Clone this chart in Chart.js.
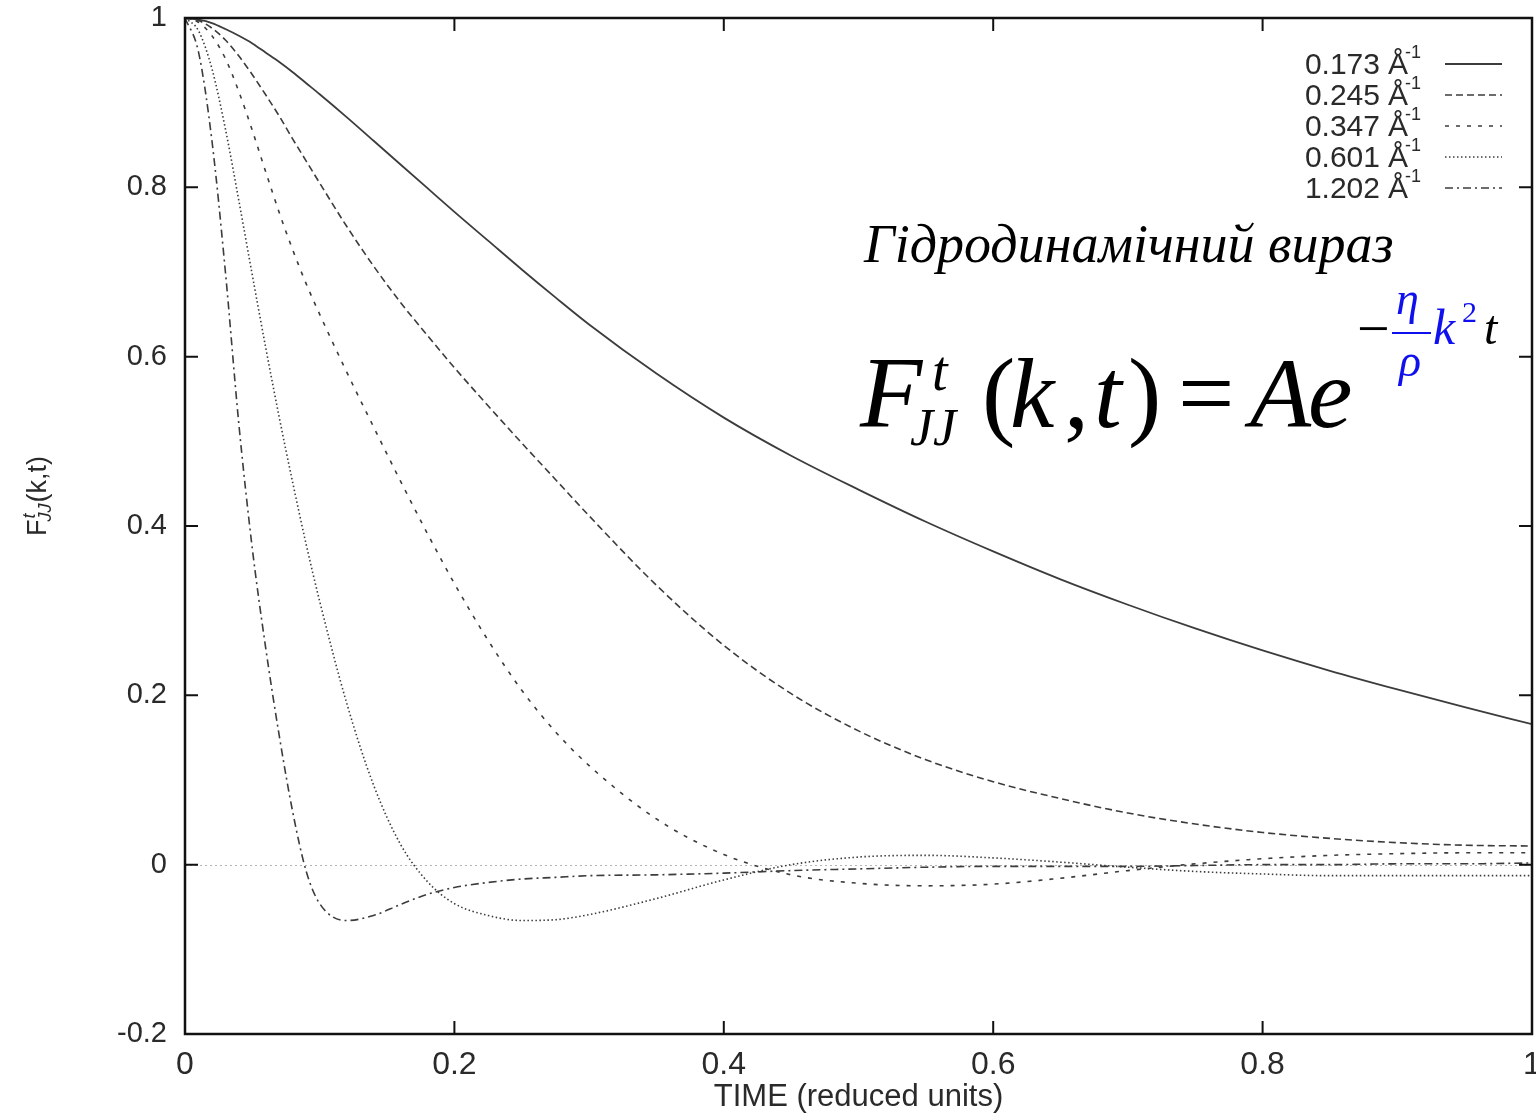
<!DOCTYPE html>
<html>
<head>
<meta charset="utf-8">
<script src="https://cdn.jsdelivr.net/npm/chart.js@4"></script>
<style>
  html, body { margin: 0; padding: 0; background: #fff; }
  #wrap { width: 1536px; height: 1113px; }
</style>
</head>
<body>
<div id="wrap"><canvas id="chart" width="1536" height="1113"></canvas></div>
<script>
// time axis (reduced units)
const times = [0, 0.01, 0.02, 0.03, 0.04, 0.05, 0.06, 0.07, 0.08, 0.09, 0.1, 0.12, 0.14, 0.16, 0.18, 0.2,
  0.225, 0.25, 0.275, 0.3, 0.35, 0.4, 0.45, 0.5, 0.55, 0.6, 0.65, 0.7, 0.75, 0.8, 0.85, 0.9, 0.95, 1];

// F_JJ^t(k,t) for each k
const k0173 = [1, 0.998, 0.994, 0.987, 0.979, 0.970, 0.959, 0.948, 0.936, 0.923, 0.910, 0.883, 0.855, 0.827,
  0.799, 0.771, 0.737, 0.703, 0.670, 0.638, 0.580, 0.528, 0.483, 0.443, 0.405, 0.370, 0.337, 0.307, 0.279,
  0.253, 0.229, 0.207, 0.186, 0.166];
const k0245 = [1, 0.997, 0.988, 0.974, 0.955, 0.933, 0.909, 0.884, 0.857, 0.831, 0.805, 0.754, 0.707, 0.664,
  0.625, 0.587, 0.542, 0.498, 0.455, 0.412, 0.330, 0.259, 0.202, 0.158, 0.124, 0.098, 0.078, 0.061, 0.048,
  0.038, 0.031, 0.026, 0.023, 0.022];
const k0347 = [1, 0.995, 0.979, 0.952, 0.913, 0.867, 0.818, 0.770, 0.726, 0.686, 0.650, 0.582, 0.517, 0.453,
  0.391, 0.332, 0.265, 0.206, 0.157, 0.117, 0.054, 0.012, -0.012, -0.022, -0.025, -0.023, -0.016, -0.007,
  0.001, 0.007, 0.011, 0.013, 0.014, 0.014];
const k0601 = [1, 0.985, 0.940, 0.869, 0.784, 0.696, 0.610, 0.528, 0.451, 0.378, 0.311, 0.191, 0.094, 0.024,
  -0.020, -0.046, -0.060, -0.066, -0.065, -0.059, -0.040, -0.018, 0.000, 0.009, 0.011, 0.008, 0.003, -0.003,
  -0.008, -0.011, -0.013, -0.013, -0.013, -0.013];
const k1202 = [1, 0.960, 0.855, 0.700, 0.520, 0.373, 0.255, 0.152, 0.062, -0.008, -0.046, -0.066, -0.060,
  -0.047, -0.035, -0.027, -0.021, -0.017, -0.015, -0.013, -0.012, -0.010, -0.007, -0.005, -0.003, -0.002,
  -0.002, -0.002, -0.001, 0, 0, 0.001, 0.001, 0.002];

const kLabels = ["0.173", "0.245", "0.347", "0.601", "1.202"];
const xTicks = [0, 0.2, 0.4, 0.6, 0.8, 1];
const yTicks = [-0.2, 0, 0.2, 0.4, 0.6, 0.8, 1];

const series = [k0173, k0245, k0347, k0601, k1202];
const dashes = [[], [7, 4], [4, 7], [1.5, 2.5], [8, 4, 2, 4]];
const lineColor = "#3c3c3c";

const sans = '"Liberation Sans", Arial, Helvetica, sans-serif';
const narrow = '"Liberation Sans Narrow", "Liberation Sans", Arial, sans-serif';
const serif = '"Liberation Serif", "Times New Roman", Times, serif';

const fmt = v => String(Math.round(v * 10) / 10);

// frame, inward ticks, zero line, legend, y title and the formula
const decor = {
  id: "decor",
  beforeDatasetsDraw(chart) {
    const { ctx, chartArea: a, scales: { y } } = chart;
    const y0 = Math.round(y.getPixelForValue(0)) + 0.5;
    ctx.save();
    ctx.strokeStyle = "#b4b4b4";
    ctx.lineWidth = 1;
    ctx.setLineDash([2, 3]);
    ctx.beginPath();
    ctx.moveTo(a.left, y0);
    ctx.lineTo(a.right, y0);
    ctx.stroke();
    ctx.restore();
  },
  afterDraw(chart) {
    const { ctx, chartArea: a, scales: { x, y } } = chart;
    ctx.save();
    ctx.strokeStyle = "#111";
    ctx.lineWidth = 2.5;
    ctx.strokeRect(a.left, a.top, a.right - a.left, a.bottom - a.top);

    // ticks pointing in, on all four sides
    ctx.lineWidth = 2;
    const tl = 13;
    ctx.beginPath();
    x.ticks.forEach(t => {
      const px = x.getPixelForValue(t.value);
      ctx.moveTo(px, a.bottom); ctx.lineTo(px, a.bottom - tl);
      ctx.moveTo(px, a.top); ctx.lineTo(px, a.top + tl);
    });
    y.ticks.forEach(t => {
      const py = y.getPixelForValue(t.value);
      ctx.moveTo(a.left, py); ctx.lineTo(a.left + tl, py);
      ctx.moveTo(a.right, py); ctx.lineTo(a.right - tl, py);
    });
    ctx.stroke();

    // legend
    const rightEdge = 1421;
    chart.data.datasets.forEach((ds, i) => {
      const base = 74 + i * 31;
      ctx.fillStyle = "#2a2a2a";
      ctx.textBaseline = "alphabetic";
      ctx.textAlign = "left";
      ctx.font = "18px " + sans;
      const supW = ctx.measureText("-1").width;
      const supX = rightEdge - supW;
      ctx.fillText("-1", supX, base - 16);
      ctx.font = "30px " + sans;
      const aW = ctx.measureText("Å").width;
      const aX = supX - aW + 3;
      ctx.fillText("Å", aX, base);
      ctx.textAlign = "right";
      ctx.fillText(kLabels[i], aX - 8, base);
      ctx.strokeStyle = ds.borderColor;
      ctx.lineWidth = ds.borderWidth;
      ctx.setLineDash(ds.borderDash);
      ctx.beginPath();
      ctx.moveTo(1445, base - 10);
      ctx.lineTo(1502, base - 10);
      ctx.stroke();
      ctx.setLineDash([]);
    });

    // y axis title F^t_JJ(k,t), rotated
    ctx.save();
    ctx.translate(46, 488);
    ctx.rotate(-Math.PI / 2);
    ctx.fillStyle = "#2a2a2a";
    ctx.textAlign = "left";
    ctx.textBaseline = "alphabetic";
    let cx = -48;
    ctx.font = "27px " + sans;
    ctx.fillText("F", cx, 0);
    cx += ctx.measureText("F").width;
    ctx.font = "italic 18px " + sans;
    ctx.fillText("t", cx + 1, -11);
    ctx.fillText("JJ", cx - 2, 5);
    cx += ctx.measureText("JJ").width - 1;
    ctx.font = "27px " + sans;
    ctx.fillText("(k,t)", cx, 0);
    ctx.restore();

    // annotation text
    ctx.fillStyle = "#000";
    ctx.textAlign = "left";
    ctx.textBaseline = "alphabetic";
    ctx.font = "italic 54px " + serif;
    ctx.fillText("Гідродинамічний вираз", 864, 262);

    // formula F^t_JJ(k,t) = A e^{-(eta/rho) k^2 t}
    const put = (txt, style, size, px, py, color) => {
      ctx.font = style + " " + size + "px " + serif;
      ctx.fillStyle = color || "#000";
      ctx.fillText(txt, px, py);
    };
    const base = 427;
    put("F", "italic", 102, 860, base);
    put("t", "italic", 56, 932, base - 37);
    put("JJ", "italic", 52, 910, base + 18);
    put("(", "normal", 100, 982, base);
    put("k", "italic", 100, 1010, base);
    put(",", "normal", 100, 1064, base);
    put("t", "italic", 100, 1094, base);
    put(")", "normal", 100, 1128, base);
    put("=", "normal", 100, 1178, base);
    put("A", "italic", 100, 1250, base);
    put("e", "italic", 100, 1308, base);

    const blue = "#1010ee";
    put("\u2212", "normal", 58, 1357, 348);
    put("\u03b7", "italic", 46, 1396, 314, blue);
    ctx.strokeStyle = blue;
    ctx.lineWidth = 2;
    ctx.beginPath();
    ctx.moveTo(1392, 333);
    ctx.lineTo(1431, 333);
    ctx.stroke();
    put("\u03c1", "italic", 46, 1399, 376, blue);
    put("k", "italic", 50, 1433, 344, blue);
    put("2", "normal", 30, 1462, 322, blue);
    put("t", "italic", 48, 1484, 344);
    ctx.restore();
  }
};

const datasets = series.map((vals, i) => ({
  label: kLabels[i] + " Å-1",
  data: times.map((t, j) => ({ x: t, y: vals[j] })),
  borderColor: lineColor,
  borderWidth: i === 0 ? 1.8 : 1.6,
  borderDash: dashes[i],
  pointRadius: 0,
  fill: false,
  cubicInterpolationMode: "monotone"
}));

new Chart(document.getElementById("chart").getContext("2d"), {
  type: "line",
  data: { datasets },
  options: {
    responsive: false,
    animation: false,
    devicePixelRatio: 1,
    layout: { padding: { left: 0, top: 18, right: 4, bottom: 0 } },
    plugins: { legend: { display: false }, tooltip: { enabled: false } },
    scales: {
      x: {
        type: "linear",
        min: 0,
        max: 1,
        afterBuildTicks: s => { s.ticks = xTicks.map(v => ({ value: v })); },
        afterFit: s => { s.height = 79; s.paddingLeft = 0; s.paddingRight = 0; },
        grid: { display: false, drawTicks: false },
        border: { display: false },
        ticks: { color: "#2a2a2a", font: { family: narrow, size: 32 }, padding: 12, maxRotation: 0, callback: fmt },
        title: {
          display: true,
          text: "TIME (reduced units)",
          color: "#2a2a2a",
          font: { family: narrow, size: 31, lineHeight: 1 },
          padding: { top: 0, bottom: 0 }
        }
      },
      y: {
        type: "linear",
        min: -0.2,
        max: 1,
        afterBuildTicks: s => { s.ticks = yTicks.map(v => ({ value: v })); },
        afterFit: s => { s.width = 185; s.paddingTop = 0; s.paddingBottom = 0; },
        grid: { display: false, drawTicks: false },
        border: { display: false },
        ticks: { color: "#2a2a2a", font: { family: sans, size: 29 }, padding: 18, callback: fmt }
      }
    }
  },
  plugins: [decor]
});
</script>
</body>
</html>
